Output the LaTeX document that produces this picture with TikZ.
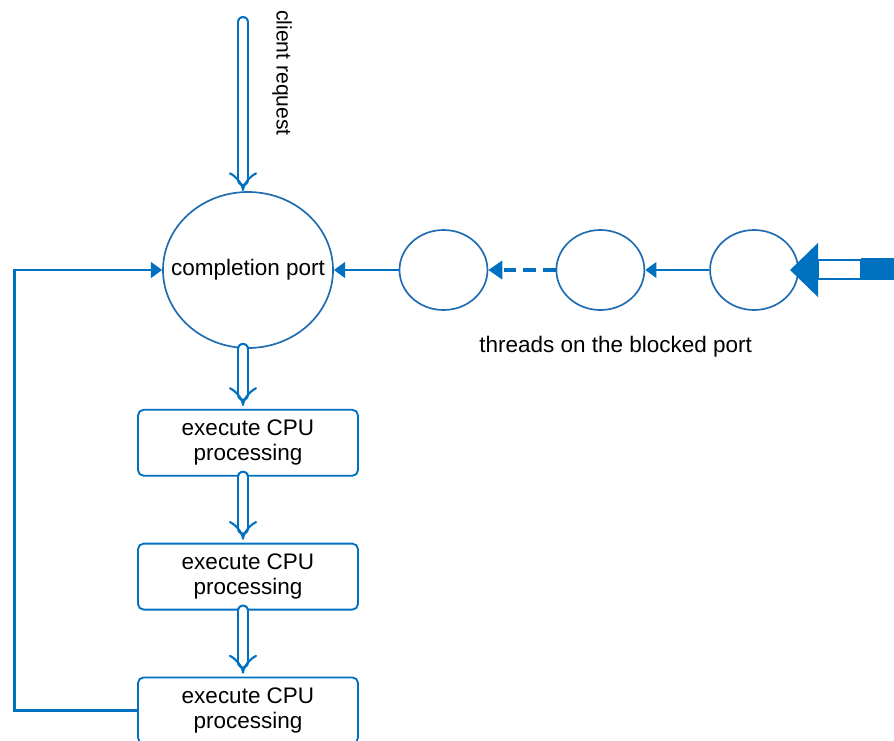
\documentclass[tikz,border=0pt]{standalone}
\usepackage{fontspec}
\setmainfont{Liberation Sans}
\usepackage{tikz}
\usetikzlibrary{shapes.geometric, arrows.meta, positioning}
\definecolor{portblue}{RGB}{0, 112, 192}
\definecolor{ringblue}{RGB}{31, 108, 178}
\tikzstyle{port} = [ellipse, draw=ringblue, line width=1.2pt, minimum width=4.25cm, minimum height=3.9cm, inner sep=0pt]
\tikzstyle{thread} = [ellipse, draw=ringblue, line width=1.2pt, minimum width=2.2cm, minimum height=2cm]
\tikzstyle{cpu} = [rectangle, rounded corners=4pt, draw=portblue, line width=1.3pt, minimum width=5.5cm, minimum height=1.65cm, text centered, align=center, font=\fontsize{16}{18}\selectfont]
\tikzstyle{arrow} = [draw=portblue, line width=2pt, -{Triangle[length=8pt,width=11pt]}]
\tikzstyle{dasharrow} = [draw=portblue, line width=3pt, dash pattern=on 9pt off 5pt, -{Triangle[length=10pt,width=13pt]}]
\tikzstyle{hollow} = [draw=portblue, line width=1.5pt, double=white, double distance=5.5pt, line cap=round, -{Implies}]
\tikzstyle{note} = [inner sep=0pt, font=\fontsize{16}{19}\selectfont]

\begin{document}
\begin{tikzpicture}
\useasboundingbox (0,0) rectangle (22.35,-18.5);

% completion port and the threads waiting on it
\node (port) [port, label={[note]center:completion port}] at (6.2,-6.75) {};
\node (t1) [thread, right=1.62cm of port] {};
\node (t2) [thread, right=1.68cm of t1] {};
\node (t3) [thread, right=1.6cm of t2] {};
\node (blocked) [note, below=0.62cm of t2, xshift=0.38cm] {threads on the blocked port};

% CPU work, top to bottom
\node (cpu1) [cpu, below=1.5cm of port] {execute CPU\\processing};
\node (cpu2) [cpu, below=1.65cm of cpu1] {execute CPU\\processing};
\node (cpu3) [cpu, below=1.65cm of cpu2] {execute CPU\\processing};

% incoming request
\coordinate (req) at (6.075,-0.55);
\node (client) [note, rotate=-90, anchor=west, font=\fontsize{15}{18}\selectfont] at (7.05,-0.25) {client request};
\draw [hollow] (req) -- (req |- port.north);

% hollow arrows down the chain
\draw [hollow, shorten >=2pt] (port.south -| req) -- (req |- cpu1.north);
\draw [hollow, shorten >=2pt] (cpu1.south -| req) -- (req |- cpu2.north);
\draw [hollow, shorten >=2pt] (cpu2.south -| req) -- (req |- cpu3.north);

% back to the port
\draw [arrow] (cpu3.west) -- ++(-3.07,0) |- (port.west);

% threads queue
\draw [arrow] (t1) -- (port);
\draw [dasharrow] (t2) -- (t1);
\draw [arrow] (t3) -- (t2);

% big arrow from the right
\coordinate (feed) at (22.35,-6.7);
\coordinate (tip) at ([xshift=-0.22cm]t3.east);
\fill [portblue] (tip) -- ++(0.7,0.68) -- ++(0,-1.36) -- cycle;
\draw [portblue, line width=1.5pt] ([xshift=0.7cm,yshift=0.24cm]tip) rectangle ([xshift=1.78cm,yshift=-0.22cm]tip);
\fill [portblue] ([xshift=1.78cm,yshift=0.3cm]tip) rectangle ([yshift=-0.24cm]feed |- tip);

\end{tikzpicture}
\end{document}
